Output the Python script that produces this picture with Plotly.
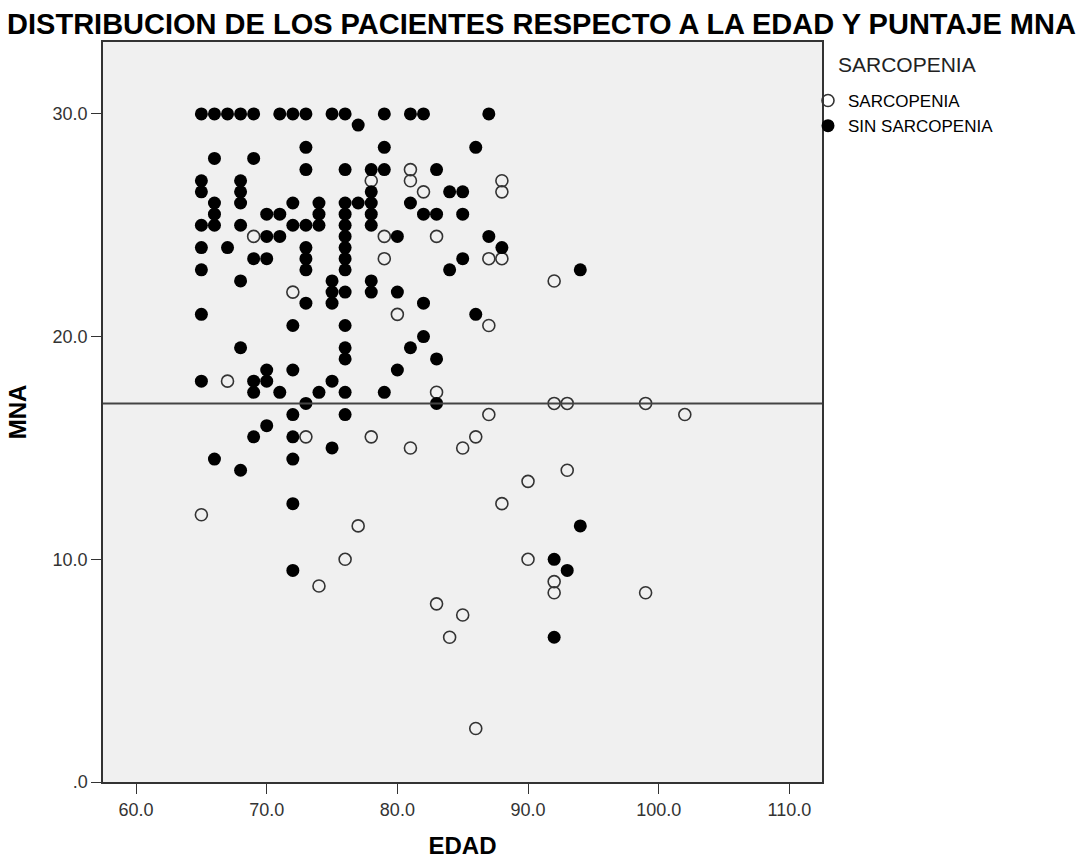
import plotly.graph_objects as go

# SARCOPENIA (open circles)
sarc_edad = [65, 67, 69, 72, 73, 74, 76, 77, 78, 78, 79, 79, 80, 81, 81, 81, 82, 83, 83, 83,
             84, 85, 85, 86, 86, 87, 87, 87, 88, 88, 88, 88, 90, 90, 92, 92, 92, 92, 93, 93,
             99, 99, 102]
sarc_mna = [12, 18, 24.5, 22, 15.5, 8.8, 10, 11.5, 27, 15.5, 24.5, 23.5, 21, 27.5, 27, 15, 26.5, 24.5, 17.5, 8,
            6.5, 15, 7.5, 15.5, 2.4, 23.5, 20.5, 16.5, 27, 26.5, 23.5, 12.5, 13.5, 10, 22.5, 17, 9, 8.5, 17, 14,
            17, 8.5, 16.5]

# SIN SARCOPENIA (filled circles)
sin_edad = ([65] * 8 + [66] * 6 + [67] * 2 + [68] * 8 + [69] * 6 + [70] * 6 + [71] * 4 + [72] * 10 +
            [73] * 9 + [74] * 4 + [75] * 6 + [76] * 15 + [77] * 2 + [78] * 7 + [79] * 4 + [80] * 3 +
            [81] * 3 + [82] * 4 + [83] * 4 + [84] * 2 + [85] * 3 + [86] * 2 + [87] * 2 + [88] * 1 +
            [92] * 2 + [93] * 1 + [94] * 2)
sin_mna = [30, 27, 26.5, 25, 24, 23, 21, 18,
           30, 28, 26, 25.5, 25, 14.5,
           30, 24,
           30, 27, 26.5, 26, 25, 22.5, 19.5, 14,
           30, 28, 23.5, 18, 17.5, 15.5,
           25.5, 24.5, 23.5, 18.5, 18, 16,
           30, 25.5, 24.5, 17.5,
           30, 26, 25, 20.5, 18.5, 16.5, 15.5, 14.5, 12.5, 9.5,
           30, 28.5, 27.5, 25, 24, 23.5, 23, 21.5, 17,
           26, 25.5, 25, 17.5,
           30, 22.5, 22, 21.5, 18, 15,
           30, 27.5, 26, 25.5, 25, 24.5, 24, 23.5, 23, 22, 20.5, 19.5, 19, 17.5, 16.5,
           29.5, 26,
           27.5, 26.5, 26, 25.5, 25, 22.5, 22,
           30, 28.5, 27.5, 17.5,
           24.5, 22, 18.5,
           30, 26, 19.5,
           30, 25.5, 21.5, 20,
           27.5, 25.5, 19, 17,
           26.5, 23,
           26.5, 25.5, 23.5,
           28.5, 21,
           30, 24.5,
           24,
           10, 6.5,
           9.5,
           23, 11.5]

ref_mna = 17
x_ticks = [60, 70, 80, 90, 100, 110]
x_ticktext = ["60.0", "70.0", "80.0", "90.0", "100.0", "110.0"]
y_ticks = [0, 10, 20, 30]
y_ticktext = [".0", "10.0", "20.0", "30.0"]

FONT = "Liberation Sans, Arial, sans-serif"

fig = go.Figure()
fig.add_trace(go.Scatter(
    x=sarc_edad, y=sarc_mna, mode="markers", name="SARCOPENIA",
    marker=dict(symbol="circle-open", size=12, color="#333333", line=dict(width=1.6, color="#333333")),
))
fig.add_trace(go.Scatter(
    x=sin_edad, y=sin_mna, mode="markers", name="SIN SARCOPENIA",
    marker=dict(symbol="circle", size=13, color="#000000", line=dict(width=0)),
))

fig.add_shape(type="line", xref="paper", x0=0, x1=1, yref="y", y0=ref_mna, y1=ref_mna,
              line=dict(color="#444444", width=2), layer="above")

fig.add_annotation(text="SARCOPENIA", xref="paper", yref="paper",
                   x=(836 - 103) / 719, xanchor="left", y=1 - (64 - 42) / 740, yanchor="middle",
                   showarrow=False, font=dict(family=FONT, size=21, color="#222222"))

fig.update_layout(
    width=1083, height=863,
    margin=dict(l=103, r=261, t=42, b=81, autoexpand=False),
    paper_bgcolor="white", plot_bgcolor="#f0f0f0",
    font=dict(family=FONT, size=13, color="#222222"),
    title=dict(text="<b>DISTRIBUCION DE LOS PACIENTES RESPECTO A LA EDAD Y PUNTAJE MNA</b>",
               x=0.5, xanchor="center", y=1 - 24 / 863, yanchor="middle",
               font=dict(family=FONT, size=29, color="#000000")),
    xaxis=dict(range=[57.47, 112.5], tickvals=x_ticks, ticktext=x_ticktext, automargin=False,
               ticks="outside", ticklen=10, tickcolor="#333333", showgrid=False, zeroline=False,
               showline=True, linecolor="#333333", linewidth=1.5, mirror=True,
               tickfont=dict(size=18, color="#333333"), ticklabelstandoff=1,
               title=dict(text="<b>EDAD</b>", font=dict(size=24, color="#000000"), standoff=18)),
    yaxis=dict(range=[0, 33.23], tickvals=y_ticks, ticktext=y_ticktext, automargin=False,
               ticks="outside", ticklen=10, tickcolor="#333333", showgrid=False, zeroline=False,
               showline=True, linecolor="#333333", linewidth=1.5, mirror=True,
               tickfont=dict(size=18, color="#333333"), ticklabelstandoff=0,
               title=dict(text="<b>MNA</b>", font=dict(size=24, color="#000000"), standoff=19)),
    legend=dict(x=(808 - 103) / 719, xanchor="left", y=1 - (83 - 42) / 740, yanchor="top",
                font=dict(size=17, color="#000000"), itemsizing="trace",
                tracegroupgap=0, itemwidth=30, bgcolor="rgba(0,0,0,0)"),
    showlegend=True,
)

fig.write_html("out.html")
